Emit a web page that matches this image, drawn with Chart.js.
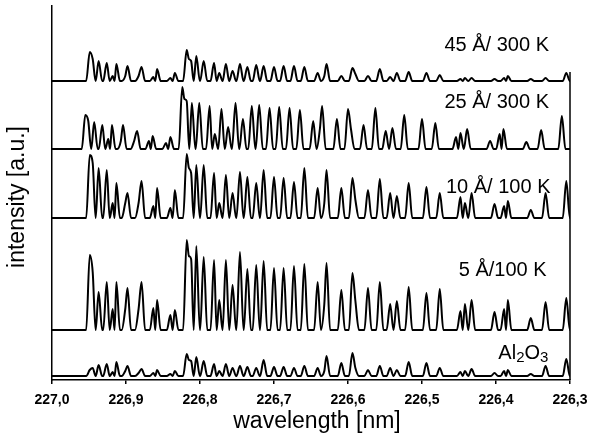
<!DOCTYPE html>
<html>
<head>
<meta charset="utf-8">
<script src="https://cdn.jsdelivr.net/npm/chart.js@4.4.1/dist/chart.umd.min.js"></script>
<style>
  html,body{margin:0;padding:0;background:#fff;}
  #wrap{width:591px;height:434px;position:relative;}
</style>
</head>
<body>
<div id="wrap"><canvas id="spec"></canvas></div>
<script>
// emission lines (nm), same for every trace
const WL = [226.949,226.945,226.937,226.926,226.918,226.913,226.901,226.898,226.883,226.879,226.863,226.858,226.840,226.834,
  226.818,226.815,226.812,226.805,226.795,226.781,226.774,226.765,226.756,226.746,226.736,226.724,226.714,226.700,226.687,226.673,226.659,
  226.641,226.632,226.629,226.609,226.594,226.590,226.573,226.557,226.543,226.534,226.518,226.494,226.476,226.448,226.442,226.433,226.402,226.389,226.384,226.353,226.333,226.305];

// peak heights per trace (a.u.)
const H45 = [29,22,20,18,5,17,5,15,5,14,4,12,3,8, 31,22,20,25,20,18,8,17,10,17,14,16,15,14,15,15,14, 8,5,17,5,13,7,5,12,4,8,9,8,6,2,3,3,2,3,5,2,3,8];
const H25 = [34,28,27,24,10,24,8,24,8,18,8,13,6,12, 62,50,48,46,46,43,15,40,22,46,30,43,44,41,42,41,39, 28,20,43,30,40,20,24,41,18,21,34,30,26,12,16,20,8,15,20,7,19,33];
const H10 = [63,55,50,48,15,35,15,25,15,37,12,30,10,28, 64,50,45,53,53,45,15,43,25,46,41,35,48,41,40,36,50, 30,15,48,30,40,18,28,39,25,22,35,31,25,21,15,25,14,12,17,8,25,37];
const H5  = [75,58,38,48,21,48,21,42,21,48,22,30,15,20, 90,74,71,84,73,70,30,70,45,78,61,65,69,62,62,64,66, 48,26,67,40,57,29,42,48,26,29,43,37,41,19,26,30,18,21,30,12,28,32];
const HAL = [6,8,11,12,4,14,5,10,3,7,3,6,2,5, 22,16,15,19,15,12,5,12,8,10,9,8,16,9,9,8,10, 8,5,20,13,23,8,6,10,8,6,14,13,8,4,5,7,3,5,6,2,10,17];

const TRACES = [H45, H25, H10, H5, HAL];
const OFFSETS = [299, 231, 162, 50, 4];        // vertical offset of each trace
const SHIFTS = [0, 0.006, 0, 0, 0];            // wavelength calibration shift (nm)
const LABELS = ["45 \u00C5/ 300 K", "25 \u00C5/ 300 K", "10 \u00C5/ 100 K", "5 \u00C5/100 K", "Al2O3"];
const LABEL_X = [226.399, 226.399, 226.397, 226.391, 226.363];
const LABEL_Y = [335, 278, 193, 110, 27];
const XTICKS = [227.0, 226.9, 226.8, 226.7, 226.6, 226.5, 226.4, 226.3];

const HALF = 0.0048;   // half base width of an isolated line
const BLEND = 0.0045;  // lines closer than this merge without a valley
const FONT = "'Liberation Sans', Arial, sans-serif";

function buildTrace(h, base, shift){
  const pts = [{x:227.0, y:base}];
  for(let i=0;i<WL.length;i++){
    const lam = WL[i] + shift;
    const gapPrev = i>0 ? WL[i-1]-WL[i] : 1;
    const gapNext = i<WL.length-1 ? WL[i]-WL[i+1] : 1;
    if(gapPrev >= BLEND) pts.push({x:lam+Math.min(HALF, gapPrev*0.49), y:base});
    pts.push({x:lam, y:base+h[i]});
    if(gapNext >= BLEND) pts.push({x:lam-Math.min(HALF, gapNext*0.49), y:base});
  }
  pts.push({x:226.3, y:base});
  return pts.reverse();
}

const datasets = TRACES.map(function(h,i){
  return {data:buildTrace(h, OFFSETS[i], SHIFTS[i]), borderColor:"#000", borderWidth:2,
    pointRadius:0, cubicInterpolationMode:"monotone", fill:false};
});

const textPlugin = {
  id:"texts",
  afterDraw(chart){
    const ctx = chart.ctx, xs = chart.scales.x, ys = chart.scales.y, ca = chart.chartArea;
    ctx.save();
    ctx.strokeStyle = "#000"; ctx.lineWidth = 1.5;
    ctx.beginPath(); ctx.moveTo(ca.right, ys.getPixelForValue(308)); ctx.lineTo(ca.right, ca.bottom); ctx.stroke();
    ctx.fillStyle = "#000";
    ctx.textBaseline = "middle";
    // axis titles
    ctx.font = "23px "+FONT; ctx.textAlign = "center";
    ctx.fillText("wavelength [nm]", 317, 422);
    ctx.save(); ctx.translate(18, 197); ctx.rotate(-Math.PI/2);
    ctx.fillText("intensity [a.u.]", 0, 0); ctx.restore();
    for(let i=0;i<LABELS.length;i++){
      const px = xs.getPixelForValue(LABEL_X[i]), py = ys.getPixelForValue(LABEL_Y[i]);
      if(LABELS[i] === "Al2O3"){
        const parts = [["Al",20,0],["2",15,5],["O",20,0],["3",15,5]];
        let w = 0;
        parts.forEach(function(p){ ctx.font = p[1]+"px "+FONT; w += ctx.measureText(p[0]).width; });
        let x = px - w/2;
        ctx.textAlign = "left";
        parts.forEach(function(p){
          ctx.font = p[1]+"px "+FONT;
          ctx.fillText(p[0], x, py + p[2]);
          x += ctx.measureText(p[0]).width;
        });
      } else {
        ctx.font = "20px "+FONT;
        ctx.textAlign = "center";
        ctx.fillText(LABELS[i], px, py);
      }
    }
    ctx.restore();
  }
};

new Chart(document.getElementById("spec"), {
  type:"line",
  data:{datasets:datasets},
  options:{
    responsive:true, maintainAspectRatio:false, animation:false,
    layout:{padding:{top:6, right:21, left:0, bottom:0}},
    plugins:{legend:{display:false}, tooltip:{enabled:false}},
    scales:{
      x:{type:"linear", reverse:true, min:226.3, max:227.0,
        afterBuildTicks(s){ s.ticks = XTICKS.map(function(v){return {value:v};}); },
        ticks:{color:"#000", font:{family:FONT, size:14, weight:"bold"}, padding:8,
          maxRotation:0, callback:function(v){ return v.toFixed(1).replace(".", ","); }},
        grid:{drawOnChartArea:false, drawTicks:true, tickLength:4, color:"#000", lineWidth:1.5},
        border:{display:true, color:"#000", width:1.5},
        title:{display:false},
        afterFit(s){ s.height = 54; s.paddingLeft = 0; s.paddingRight = 0; }
      },
      y:{type:"linear", min:0, max:374,
        ticks:{display:false},
        grid:{display:false, drawTicks:false},
        border:{display:true, color:"#000", width:1.5},
        title:{display:false},
        afterFit(s){ s.width = 52; s.paddingTop = 0; s.paddingBottom = 0; }
      }
    }
  },
  plugins:[textPlugin]
});
</script>
</body>
</html>
